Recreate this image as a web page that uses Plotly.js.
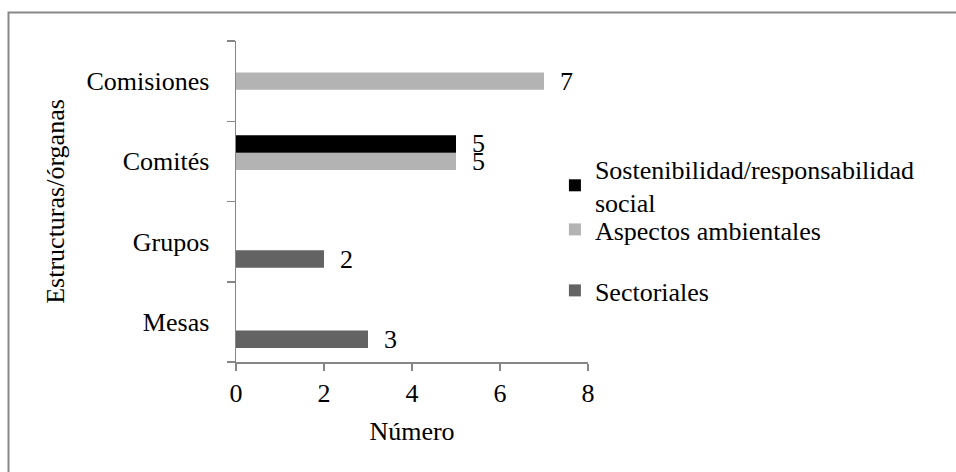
<!DOCTYPE html>
<html>
<head>
<meta charset="utf-8">
<script src="https://cdn.plot.ly/plotly-3.0.1.min.js"></script>
<style>html,body{margin:0;padding:0;background:#fff;}#chart{width:956px;height:472px;}</style>
</head>
<body>
<div id="chart"></div>
<script>
// Data (categories listed bottom to top)
var categories = ["Mesas", "Grupos", "Comités", "Comisiones"];
var seriesNames = ["Sectoriales", "Aspectos ambientales", "Sostenibilidad/responsabilidad<br>social"];
var sectoriales = [3, 2, null, null];
var aspectosAmbientales = [null, null, 5, 7];
var sostenibilidad = [null, null, 5, null];
var xTicks = [0, 2, 4, 6, 8];
var xTitle = "Número";
var yTitle = "Estructuras/órganas";

var FONT = "Liberation Serif";
var AXIS = "#868686";

function barTrace(name, values, color, legendId) {
  return {
    type: "bar", orientation: "h", name: name,
    y: categories, x: values,
    marker: {color: color, line: {width: 0}},
    texttemplate: "\u00a0\u00a0%{x}", textposition: "outside",
    textfont: {family: FONT, size: 26, color: "#000"},
    outsidetextfont: {family: FONT, size: 26, color: "#000"},
    constraintext: "none", cliponaxis: false,
    hoverinfo: "x+y", legend: legendId
  };
}

var data = [
  barTrace(seriesNames[0], sectoriales, "#636363", "legend2"),
  barTrace(seriesNames[1], aspectosAmbientales, "#b3b3b3", "legend3"),
  barTrace(seriesNames[2], sostenibilidad, "#000000", "legend")
];

function legendAt(yPaper) {
  return {
    x: 0.906, xanchor: "left", y: yPaper, yanchor: "top",
    font: {family: FONT, size: 26, color: "#000"},
    bgcolor: "rgba(0,0,0,0)", borderwidth: 0, itemclick: false
  };
}

var layout = {
  width: 956, height: 472,
  margin: {l: 236, r: 368, t: 41, b: 110, pad: 0},
  paper_bgcolor: "#fff", plot_bgcolor: "#fff",
  font: {family: FONT, size: 26, color: "#000"},
  barmode: "group", bargap: 0.35, bargroupgap: 0,
  showlegend: true,
  xaxis: {
    range: [0, 8], tickvals: xTicks, showgrid: false, zeroline: false,
    showline: true, linecolor: AXIS, linewidth: 1.5,
    ticks: "outside", ticklen: 7, tickwidth: 1.5, tickcolor: AXIS,
    tickfont: {family: FONT, size: 26, color: "#000"},
    title: {text: xTitle, font: {family: FONT, size: 26, color: "#000"}, standoff: 15},
    fixedrange: true
  },
  yaxis: {
    type: "category", categoryorder: "array", categoryarray: categories,
    range: [-0.5, 3.5], showgrid: false, zeroline: false,
    showline: true, linecolor: AXIS, linewidth: 1.5,
    ticks: "outside", tickson: "boundaries", ticklen: 8, tickwidth: 1.5, tickcolor: AXIS,
    ticklabelstandoff: 20,
    tickfont: {family: FONT, size: 26, color: "#000"},
    title: {text: yTitle, font: {family: FONT, size: 26, color: "#000"}, standoff: 14},
    fixedrange: true
  },
  legend: legendAt(0.676),
  legend3: legendAt(0.486),
  legend2: legendAt(0.296),
  shapes: [{
    type: "rect", xref: "paper", yref: "paper",
    x0: (8.5 - 236) / 352, x1: (980 - 236) / 352,
    y0: (362 - 500) / 321, y1: 1 + (41 - 12.5) / 321,
    line: {color: "#898989", width: 2}, fillcolor: "rgba(0,0,0,0)", layer: "below"
  }]
};

Plotly.newPlot("chart", data, layout, {displayModeBar: false, staticPlot: true});
</script>
</body>
</html>
